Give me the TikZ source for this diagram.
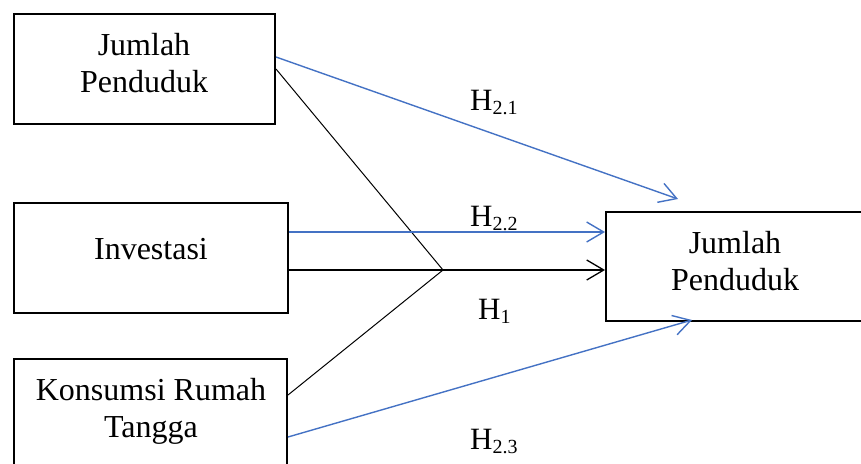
\documentclass[tikz,border=0pt]{standalone}
\usepackage{fontspec}
\setmainfont{Liberation Serif}
\usetikzlibrary{arrows.meta}
\definecolor{hblue}{RGB}{68,114,196}
\newcommand\hsub[1]{\raisebox{-4pt}{\fontsize{20}{20}\selectfont #1}}
\begin{document}
\begin{tikzpicture}[x=1pt,y=-1pt,
  box/.style={draw=black,line width=2pt,inner sep=0pt},
  txt/.style={anchor=base,inner sep=0pt,font=\fontsize{32}{38}\selectfont},
  conn/.style={draw=black,line width=1pt},
  bconn/.style={draw=hblue,line width=1.4pt},
  tip/.style={-{Straight Barb[length=17pt,width=20pt]}},
  lab/.style={anchor=base west,inner sep=0pt,font=\fontsize{31}{37}\selectfont}]
\useasboundingbox (0,0) rectangle (861,463);
\clip (0,0) rectangle (861,463);
\node[box,minimum width=261pt,minimum height=110pt] (b1) at (144.5,69) {};
\node[box,minimum width=274pt,minimum height=110pt] (b2) at (151,258) {};
\node[box,minimum width=273pt,minimum height=130pt] (b3) at (150.5,424) {};
\node[box,minimum width=300pt,minimum height=109pt] (b4) at (756,266.5) {};
\node[txt] (t1a) at (144,55) {Jumlah};
\node[txt] (t1b) at (144,92) {Penduduk};
\node[txt] (t2) at (151,259) {Investasi};
\node[txt] (t3a) at (151,400) {Konsumsi Rumah};
\node[txt] (t3b) at (151,437) {Tangga};
\node[txt] (t4a) at (735,253) {Jumlah};
\node[txt] (t4b) at (735,290) {Penduduk};
\coordinate (j) at (443,270);
\draw[conn] (b1.east) -- (j);
\draw[conn] ([yshift=29pt]b3.east) -- (j);
\draw[conn,line width=1.3pt] ([yshift=-12pt]b2.east) -- (j);
\draw[conn,line width=1.3pt,tip] (j) -- (j -| b4.west);
\draw[bconn,tip] ([yshift=26pt]b2.east) -- ([yshift=26pt]b2.east -| b4.west);
\draw[bconn,tip] ([yshift=12pt]b1.east) -- ([xshift=73pt,yshift=12pt]b4.north west);
\draw[bconn,tip] ([yshift=-13pt]b3.east) -- ([xshift=87pt,yshift=2pt]b4.south west);
\node[lab] (h21) at (470,110) {H\hsub{2.1}};
\node[lab] (h22) at (470,226) {H\hsub{2.2}};
\node[lab] (h1) at (478,319) {H\hsub{1}};
\node[lab] (h23) at (470,449) {H\hsub{2.3}};
\end{tikzpicture}
\end{document}
